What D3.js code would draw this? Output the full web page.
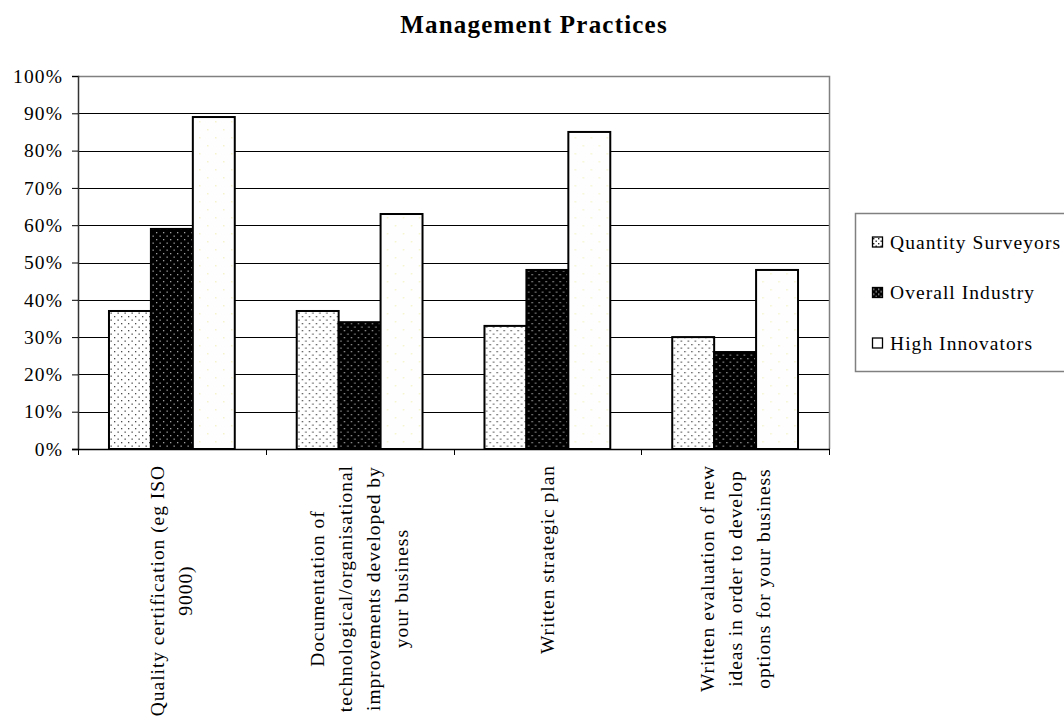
<!DOCTYPE html>
<html>
<head>
<meta charset="utf-8">
<script src="https://cdn.jsdelivr.net/npm/d3@7"></script>
<style>
  html, body { margin: 0; padding: 0; background: #fff; }
  svg { display: block; font-family: "Liberation Serif", "Times New Roman", serif; }
</style>
</head>
<body>
<svg id="chart" width="1064" height="721"></svg>
<script>
// Share of businesses using each management practice
const categories = [
  ["Quality certification (eg ISO", "9000)"],
  ["Documentation of", "technological/organisational", "improvements developed by", "your business"],
  ["Written strategic plan"],
  ["Written evaluation of new", "ideas in order to develop", "options for your business"]
];
const seriesNames = ["Quantity Surveyors", "Overall Industry", "High Innovators"];
const quantitySurveyors = [0.37, 0.37, 0.33, 0.30];
const overallIndustry   = [0.59, 0.34, 0.48, 0.26];
const highInnovators    = [0.89, 0.63, 0.85, 0.48];
const yTicks = [0, 0.1, 0.2, 0.3, 0.4, 0.5, 0.6, 0.7, 0.8, 0.9, 1.0];
const title = "Management Practices";

const seriesValues = [quantitySurveyors, overallIndustry, highInnovators];
const catKeys = categories.map((c, i) => "c" + i);

const svg = d3.select("#chart");
const plot = { left: 78, right: 829, top: 76, bottom: 449 };

// Fill patterns: light dotted, dark dotted, plain white
const defs = svg.append("defs");
function dotPattern(id, bg, dot, size, r) {
  const p = defs.append("pattern").attr("id", id)
    .attr("patternUnits", "userSpaceOnUse").attr("width", size).attr("height", size);
  p.append("rect").attr("width", size).attr("height", size).attr("fill", bg);
  p.append("rect").attr("x", 1).attr("y", 1).attr("width", r).attr("height", r).attr("fill", dot);
  p.append("rect").attr("x", 1 + size / 2).attr("y", 1 + size / 2).attr("width", r).attr("height", r).attr("fill", dot);
}
dotPattern("pat-qs", "#ffffff", "#4a4a4a", 7, 1.3);
dotPattern("pat-oi", "#000000", "#a0a0a0", 7, 1.3);
dotPattern("pat-hi", "#fefefe", "#f4f4cc", 16, 1.5);
const fills = ["url(#pat-qs)", "url(#pat-oi)", "url(#pat-hi)"];

const x0 = d3.scaleBand().domain(catKeys).range([plot.left, plot.right]).padding(0);
const x1 = d3.scaleBand().domain(seriesNames)
  .range([x0.bandwidth() * 0.165, x0.bandwidth() * 0.835]).padding(0);
const y = d3.scaleLinear().domain([0, 1]).range([plot.bottom, plot.top]);

// Title
svg.append("text")
  .attr("x", 534).attr("y", 33)
  .attr("text-anchor", "middle")
  .attr("font-size", 25).attr("font-weight", "bold")
  .attr("letter-spacing", 1.2)
  .attr("fill", "#000")
  .text(title);

// Horizontal gridlines
svg.append("g").selectAll("line").data(yTicks.filter(t => t > 0 && t < 1)).join("line")
  .attr("x1", plot.left).attr("x2", plot.right)
  .attr("y1", d => Math.round(y(d)) + 0.5).attr("y2", d => Math.round(y(d)) + 0.5)
  .attr("stroke", "#000").attr("stroke-width", 1);

// Plot frame: top and right edges
svg.append("path")
  .attr("d", `M${plot.left},${plot.top + 0.5}H${plot.right + 0.5}V${plot.bottom}`)
  .attr("fill", "none").attr("stroke", "#808080").attr("stroke-width", 1.5);

// Bars
const groups = svg.append("g").selectAll("g").data(catKeys).join("g")
  .attr("transform", d => `translate(${x0(d)},0)`);
groups.selectAll("rect")
  .data((d, i) => seriesNames.map((s, j) => ({ s, j, v: seriesValues[j][i] })))
  .join("rect")
  .attr("x", d => x1(d.s))
  .attr("width", x1.bandwidth())
  .attr("y", d => y(d.v))
  .attr("height", d => y(0) - y(d.v))
  .attr("fill", d => fills[d.j])
  .attr("stroke", "#000").attr("stroke-width", 2);

// Y axis
const yAxis = svg.append("g")
  .attr("transform", `translate(${plot.left},0)`)
  .call(d3.axisLeft(y).tickValues(yTicks).tickFormat(d3.format(".0%")).tickSize(6).tickPadding(9));
yAxis.select(".domain").attr("stroke", "#333").attr("stroke-width", 1.5);
yAxis.selectAll(".tick line").attr("stroke", "#000");
yAxis.selectAll(".tick text")
  .attr("font-size", 19.5).attr("letter-spacing", 1.1)
  .attr("font-family", "Liberation Serif, Times New Roman, serif")
  .attr("fill", "#000");

// X axis baseline with ticks on category boundaries
const boundaries = d3.range(catKeys.length + 1).map(i => plot.left + i * x0.step());
svg.append("line")
  .attr("x1", plot.left - 6).attr("x2", plot.right + 1)
  .attr("y1", plot.bottom + 0.5).attr("y2", plot.bottom + 0.5)
  .attr("stroke", "#000").attr("stroke-width", 1.5);
svg.append("g").selectAll("line").data(boundaries).join("line")
  .attr("x1", d => Math.round(d) + 0.5).attr("x2", d => Math.round(d) + 0.5)
  .attr("y1", plot.bottom).attr("y2", plot.bottom + 6)
  .attr("stroke", "#000").attr("stroke-width", 1);

// Rotated, multi-line category labels; lines centred, block hangs from the axis
const lineGap = 28;
const labelTop = 465;
const labels = svg.append("g").selectAll("text").data(categories).join("text")
  .attr("text-anchor", "middle")
  .attr("font-size", 19.5).attr("letter-spacing", 0.95)
  .attr("fill", "#000");
labels.each(function (lines, i) {
  const t = d3.select(this);
  const n = lines.length;
  lines.forEach((line, k) => {
    t.append("tspan").attr("x", 0)
      .attr("y", (k - (n - 1) / 2) * lineGap + 6.5)
      .text(line);
  });
  const longest = d3.max(t.selectAll("tspan").nodes(), nd => nd.getComputedTextLength());
  const cx = x0(catKeys[i]) + x0.bandwidth() / 2;
  const cy = labelTop + longest / 2;
  t.attr("transform", `translate(${cx},${cy}) rotate(-90)`);
});

// Legend
const legend = svg.append("g");
legend.append("rect")
  .attr("x", 855.5).attr("y", 213.5).attr("width", 220).attr("height", 158)
  .attr("fill", "#fff").attr("stroke", "#808080").attr("stroke-width", 1.5);
dotPattern("pat-qs-key", "#ffffff", "#222", 5, 1.4);
dotPattern("pat-oi-key", "#000000", "#aaa", 5, 1.4);
const keyFills = ["url(#pat-qs-key)", "url(#pat-oi-key)", "#ffffff"];
const items = legend.selectAll("g").data(seriesNames).join("g")
  .attr("transform", (d, i) => `translate(872,${242 + i * 50.5})`);
items.append("rect")
  .attr("x", 0.5).attr("y", -5).attr("width", 10).attr("height", 10)
  .attr("fill", (d, i) => keyFills[i])
  .attr("stroke", "#000").attr("stroke-width", 1.3);
items.append("text")
  .attr("x", 18).attr("y", 6.5)
  .attr("font-size", 19.5).attr("letter-spacing", 1.05)
  .attr("fill", "#000")
  .text(d => d);
</script>
</body>
</html>
